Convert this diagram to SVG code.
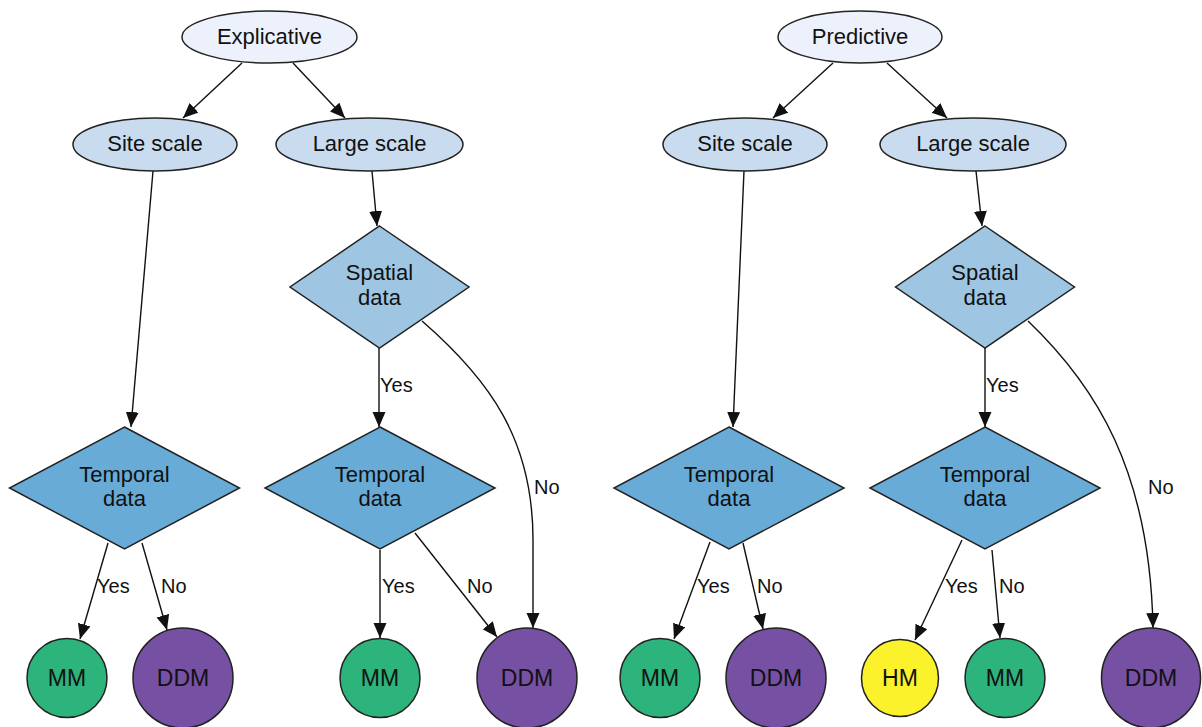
<svg xmlns="http://www.w3.org/2000/svg" width="1202" height="727" viewBox="0 0 1202 727">
<defs>
<style>
.n{stroke:#222;stroke-width:1.5}
.top{fill:#edf1fb}
.scale{fill:#c9dbef}
.sp{fill:#9ec6e2}
.tp{fill:#68abd7}
.mm{fill:#2db37c}
.ddm{fill:#7550a3}
.hm{fill:#fbf22c}
text{font-family:"Liberation Sans",Arial,sans-serif;font-size:22px;fill:#111}
.t{text-anchor:middle}
.c{font-size:23px}
.lbl{font-size:20px}
.e{fill:none;stroke:#111;stroke-width:1.4;marker-end:url(#ah)}
</style>
<marker id="ah" markerUnits="userSpaceOnUse" markerWidth="16" markerHeight="14" refX="15" refY="6.5" orient="auto">
<path d="M0,0 L15,6.5 L0,13 z" fill="#111"/>
</marker>
</defs>
<rect width="1202" height="727" fill="#fff"/>
<g id="connectors">
<path class="e" d="M242,63 L183,118"/>
<path class="e" d="M293,63 L345,118"/>
<path class="e" d="M153,171 L131,427"/>
<path class="e" d="M372,171 L377,226"/>
<path class="e" d="M379,348 L379,427"/>
<path class="e" d="M422,321 C490,380 533,440 533,540 L533,628"/>
<path class="e" d="M108,543 L80,639"/>
<path class="e" d="M142,543 L167,630"/>
<path class="e" d="M380,550 L380,638"/>
<path class="e" d="M415,533 L497,637"/>
<path class="e" d="M833,63 L773,118"/>
<path class="e" d="M887,63 L947,118"/>
<path class="e" d="M744,171 L733,427"/>
<path class="e" d="M976,171 L982,226"/>
<path class="e" d="M985,348 L985,427"/>
<path class="e" d="M1028,321 C1095,385 1150,470 1153,628"/>
<path class="e" d="M710,542 L674,639"/>
<path class="e" d="M743,543 L763,629"/>
<path class="e" d="M962,540 L915,640"/>
<path class="e" d="M992,550 L1000,638"/>
<text class="lbl" x="380" y="392">Yes</text>
<text class="lbl" x="534" y="494">No</text>
<text class="lbl" x="97" y="593">Yes</text>
<text class="lbl" x="161" y="593">No</text>
<text class="lbl" x="382" y="593">Yes</text>
<text class="lbl" x="467" y="593">No</text>
<text class="lbl" x="986" y="392">Yes</text>
<text class="lbl" x="1148" y="494">No</text>
<text class="lbl" x="697" y="593">Yes</text>
<text class="lbl" x="757" y="593">No</text>
<text class="lbl" x="945" y="593">Yes</text>
<text class="lbl" x="999" y="593">No</text>
</g>
<g id="explicative"><ellipse class="n top" cx="269.5" cy="37" rx="87.5" ry="26"/><text class="t" x="269.5" y="44">Explicative</text></g>
<g id="predictive"><ellipse class="n top" cx="860" cy="37" rx="82" ry="26"/><text class="t" x="860" y="44">Predictive</text></g>
<g id="site-l"><ellipse class="n scale" cx="155" cy="144.5" rx="82" ry="26.5"/><text class="t" x="155" y="151">Site scale</text></g>
<g id="large-l"><ellipse class="n scale" cx="369.5" cy="144.5" rx="93.5" ry="26.5"/><text class="t" x="369.5" y="151">Large scale</text></g>
<g id="site-r"><ellipse class="n scale" cx="745" cy="144.5" rx="82" ry="26.5"/><text class="t" x="745" y="151">Site scale</text></g>
<g id="large-r"><ellipse class="n scale" cx="973" cy="144.5" rx="93" ry="26.5"/><text class="t" x="973" y="151">Large scale</text></g>
<g id="spatial-l"><polygon class="n sp" points="379.5,226 469,287 379.5,348 290,287"/><text class="t" x="379.5" y="280">Spatial</text><text class="t" x="379.5" y="305">data</text></g>
<g id="spatial-r"><polygon class="n sp" points="985,226 1074.5,287 985,348 895.5,287"/><text class="t" x="985" y="280">Spatial</text><text class="t" x="985" y="305">data</text></g>
<g id="temporal-l"><polygon class="n tp" points="124.5,427 239.5,488 124.5,549 9.5,488"/><text class="t" x="124.5" y="482">Temporal</text><text class="t" x="124.5" y="506">data</text></g>
<g id="temporal-m"><polygon class="n tp" points="380,427 495,488 380,549 265,488"/><text class="t" x="380" y="482">Temporal</text><text class="t" x="380" y="506">data</text></g>
<g id="temporal-r1"><polygon class="n tp" points="729,427 844,488 729,549 614,488"/><text class="t" x="729" y="482">Temporal</text><text class="t" x="729" y="506">data</text></g>
<g id="temporal-r2"><polygon class="n tp" points="985,427 1100,488 985,549 870,488"/><text class="t" x="985" y="482">Temporal</text><text class="t" x="985" y="506">data</text></g>
<g id="mm-1"><ellipse class="n mm" cx="67" cy="678" rx="40" ry="39.5"/><text class="t c" x="67" y="686">MM</text></g>
<g id="ddm-1"><ellipse class="n ddm" cx="183" cy="678" rx="50" ry="50"/><text class="t c" x="183" y="686">DDM</text></g>
<g id="mm-2"><ellipse class="n mm" cx="380" cy="678" rx="40" ry="39.5"/><text class="t c" x="380" y="686">MM</text></g>
<g id="ddm-2"><ellipse class="n ddm" cx="527" cy="678" rx="50" ry="50"/><text class="t c" x="527" y="686">DDM</text></g>
<g id="mm-3"><ellipse class="n mm" cx="660" cy="678" rx="40" ry="39.5"/><text class="t c" x="660" y="686">MM</text></g>
<g id="ddm-3"><ellipse class="n ddm" cx="776" cy="678" rx="50" ry="50"/><text class="t c" x="776" y="686">DDM</text></g>
<g id="hm"><ellipse class="n hm" cx="900" cy="678" rx="38.5" ry="38.5"/><text class="t c" x="900" y="686">HM</text></g>
<g id="mm-4"><ellipse class="n mm" cx="1005" cy="678" rx="40" ry="39.5"/><text class="t c" x="1005" y="686">MM</text></g>
<g id="ddm-4"><ellipse class="n ddm" cx="1151" cy="678" rx="49.5" ry="50"/><text class="t c" x="1151" y="686">DDM</text></g>
</svg>
